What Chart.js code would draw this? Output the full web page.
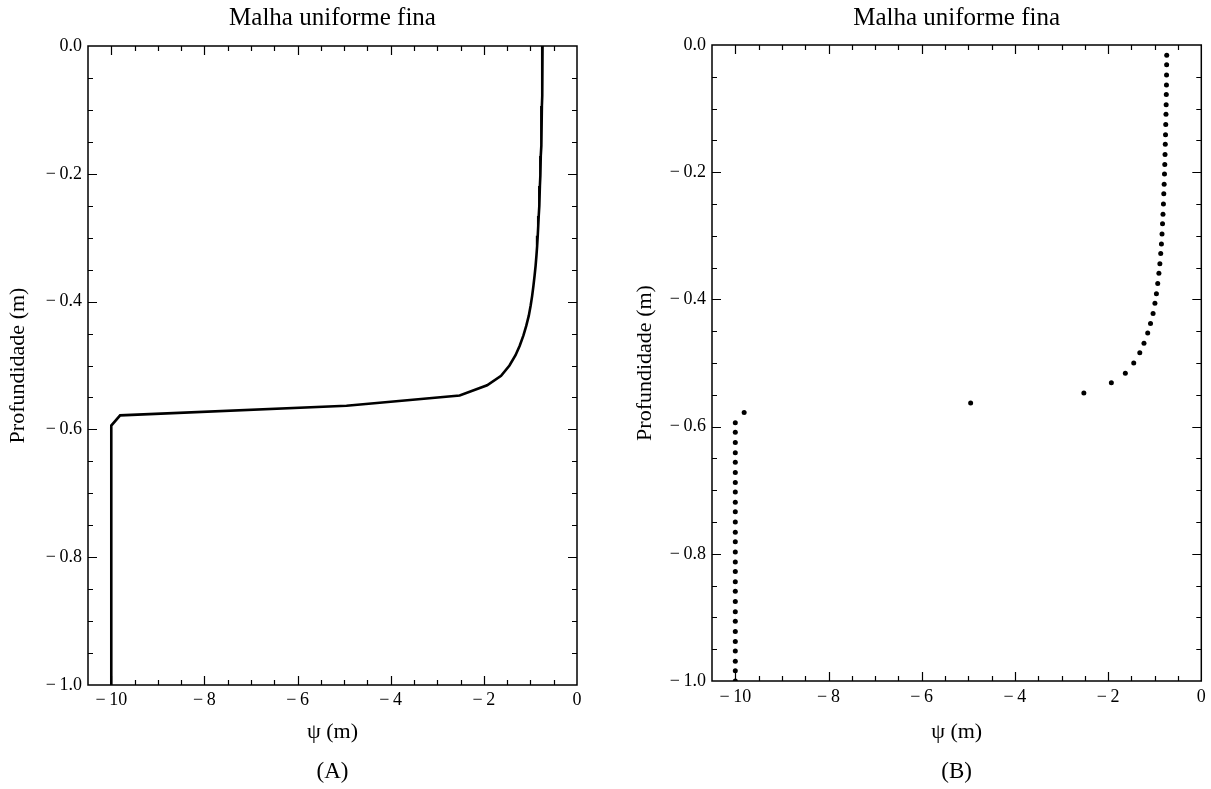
<!DOCTYPE html>
<html>
<head>
<meta charset="utf-8">
<script src="https://cdn.jsdelivr.net/npm/chart.js@4.4.0/dist/chart.umd.min.js"></script>
<style>
html,body{margin:0;padding:0;background:#fff;}
#wrap{position:relative;width:1211px;height:789px;overflow:hidden;}
canvas{position:absolute;top:0;}
</style>
</head>
<body>
<div id="wrap">
<canvas id="cA" width="606" height="789" style="left:0px"></canvas>
<canvas id="cB" width="605" height="789" style="left:606px"></canvas>
</div>
<script>
// ---------- text ----------
const chartTitle = 'Malha uniforme fina';
const xAxisTitle = 'ψ (m)';
const yAxisTitle = 'Profundidade (m)';
const captions = ['(A)', '(B)'];

// ---------- ticks ----------
const xTickValues = [-10, -8, -6, -4, -2, 0];
const xTickLabels = ['−\u200910', '−\u20098', '−\u20096', '−\u20094', '−\u20092', '0'];
const yTickValues = [0, -0.2, -0.4, -0.6, -0.8, -1.0];
const yTickLabels = ['0.0', '−\u20090.2', '−\u20090.4', '−\u20090.6', '−\u20090.8', '−\u20091.0'];
const xRange = [-10.5, 0];
const yRange = [-1.0, 0];
const xMinorStep = 0.5;
const yMinorStep = 0.05;

// ---------- data: mesh node depths (m) ----------
const depth = [
  0.000, -0.016, -0.031, -0.047, -0.063, -0.078, -0.094, -0.109, -0.125, -0.141,
  -0.156, -0.172, -0.188, -0.203, -0.219, -0.234, -0.250, -0.266, -0.281, -0.297,
  -0.313, -0.328, -0.344, -0.359, -0.375, -0.391, -0.406, -0.422, -0.438, -0.453,
  -0.469, -0.484, -0.500, -0.516, -0.531, -0.547, -0.563, -0.578, -0.594, -0.609,
  -0.625, -0.641, -0.656, -0.672, -0.688, -0.703, -0.719, -0.734, -0.750, -0.766,
  -0.781, -0.797, -0.813, -0.828, -0.844, -0.859, -0.875, -0.891, -0.906, -0.922,
  -0.938, -0.953, -0.969, -0.984, -1.000
];
// pressure head psi (m) at each node
const psi = [
  -0.740, -0.742, -0.744, -0.746, -0.748, -0.751, -0.754, -0.758, -0.763, -0.768,
  -0.773, -0.778, -0.784, -0.790, -0.797, -0.805, -0.813, -0.822, -0.832, -0.843,
  -0.856, -0.871, -0.889, -0.910, -0.935, -0.963, -0.995, -1.035, -1.090, -1.150,
  -1.230, -1.320, -1.450, -1.630, -1.930, -2.520, -4.950, -9.810, -10.00, -10.00,
  -10.00, -10.00, -10.00, -10.00, -10.00, -10.00, -10.00, -10.00, -10.00, -10.00,
  -10.00, -10.00, -10.00, -10.00, -10.00, -10.00, -10.00, -10.00, -10.00, -10.00,
  -10.00, -10.00, -10.00, -10.00, -10.00
];

// ---------- styling / layout ----------
Chart.defaults.font.family = "'Liberation Serif', 'Times New Roman', serif";
Chart.defaults.color = '#000';

const FONT = { title: 25, tick: 18, axis: 22, caption: 23 };
const CANVAS_H = 789;

const frameTicks = {
  id: 'frameTicks',
  beforeDatasetsDraw(chart) {
    const { ctx, chartArea: a, scales: { x, y } } = chart;
    const isMajor = (v, list) => list.some(t => Math.abs(t - v) < 1e-6);
    ctx.save();
    ctx.strokeStyle = '#000';
    ctx.lineWidth = 1.2;
    ctx.beginPath();
    const nx = Math.round((x.max - x.min) / xMinorStep);
    for (let i = 1; i < nx; i++) {
      const v = x.min + i * xMinorStep;
      const px = Math.round(x.getPixelForValue(v)) + 0.5;
      const L = isMajor(v, xTickValues) ? 9 : 5;
      ctx.moveTo(px, a.bottom); ctx.lineTo(px, a.bottom - L);
      ctx.moveTo(px, a.top); ctx.lineTo(px, a.top + L);
    }
    const ny = Math.round((y.max - y.min) / yMinorStep);
    for (let i = 1; i < ny; i++) {
      const v = y.min + i * yMinorStep;
      const py = Math.round(y.getPixelForValue(v)) + 0.5;
      const L = isMajor(v, yTickValues) ? 9 : 5;
      ctx.moveTo(a.left, py); ctx.lineTo(a.left + L, py);
      ctx.moveTo(a.right, py); ctx.lineTo(a.right - L, py);
    }
    ctx.stroke();
    ctx.lineWidth = 1.5;
    ctx.strokeRect(a.left, a.top, a.right - a.left, a.bottom - a.top);
    ctx.restore();
  }
};

function makePanel(canvasId, geo, caption, dataset) {
  const lhT = FONT.title * 1.2, lhA = FONT.axis * 1.2, lhC = FONT.caption * 1.2, lhK = FONT.tick * 1.2;
  const capPadBottom = CANVAS_H - geo.captionCY - lhC / 2;
  const capPadTop = 2;
  const capTop = CANVAS_H - capPadBottom - lhC - capPadTop;
  const xHeight = capTop - geo.bottom;
  const yWidth = geo.left - geo.canvasLeft;
  return new Chart(document.getElementById(canvasId), {
    type: 'scatter',
    data: { datasets: [dataset] },
    options: {
      responsive: false,
      animation: false,
      devicePixelRatio: 1,
      layout: { padding: { left: 0, top: 0, bottom: 0, right: geo.canvasRight - geo.right } },
      plugins: {
        legend: { display: false },
        tooltip: { enabled: false },
        title: {
          display: true, text: chartTitle, fullSize: false, color: '#000',
          font: { size: FONT.title, weight: 'normal' },
          padding: { top: geo.titleCY - lhT / 2, bottom: geo.top - geo.titleCY - lhT / 2 }
        },
        subtitle: {
          display: true, text: caption, position: 'bottom', fullSize: false, color: '#000',
          font: { size: FONT.caption, weight: 'normal' },
          padding: { top: capPadTop, bottom: capPadBottom }
        }
      },
      scales: {
        x: {
          type: 'linear', min: xRange[0], max: xRange[1],
          grid: { display: false, drawTicks: false },
          border: { display: false },
          afterBuildTicks: s => { s.ticks = xTickValues.map(v => ({ value: v })); },
          afterFit: s => { s.height = xHeight; },
          ticks: {
            autoSkip: false, maxRotation: 0, padding: geo.xLabelCY - geo.bottom - lhK / 2,
            font: { size: FONT.tick }, color: '#000',
            callback: (v, i) => xTickLabels[i]
          },
          title: {
            display: true, text: xAxisTitle, color: '#000',
            font: { size: FONT.axis },
            padding: { top: 0, bottom: capTop - geo.xTitleCY - lhA / 2 }
          }
        },
        y: {
          type: 'linear', min: yRange[0], max: yRange[1],
          grid: { display: false, drawTicks: false },
          border: { display: false },
          afterBuildTicks: s => { s.ticks = yTickValues.map(v => ({ value: v })); },
          afterFit: s => { s.width = yWidth; },
          ticks: {
            autoSkip: false, padding: 6,
            font: { size: FONT.tick }, color: '#000',
            callback: (v, i) => yTickLabels[i]
          },
          title: {
            display: true, text: yAxisTitle, color: '#000',
            font: { size: FONT.axis },
            padding: { top: geo.yTitleCX - geo.canvasLeft - lhA / 2, bottom: 0 }
          }
        }
      }
    },
    plugins: [frameTicks]
  });
}

const points = depth.map((d, i) => ({ x: psi[i], y: d }));

makePanel('cA',
  { canvasLeft: 0, canvasRight: 606, left: 88, right: 577, top: 46, bottom: 685,
    titleCY: 18, yTitleCX: 18, xLabelCY: 700, xTitleCY: 732, captionCY: 772 },
  captions[0],
  { data: points, showLine: true, borderColor: '#000', borderWidth: 2.6,
    pointRadius: 0, tension: 0 });

// the surface node (depth 0) is a boundary value and is not drawn as a dot in (B)
makePanel('cB',
  { canvasLeft: 606, canvasRight: 1211, left: 712, right: 1203, top: 45, bottom: 681,
    titleCY: 18, yTitleCX: 645, xLabelCY: 697, xTitleCY: 732, captionCY: 772 },
  captions[1],
  { data: points.slice(1), showLine: false, backgroundColor: '#000', borderWidth: 0,
    pointRadius: 2.5 });
</script>
</body>
</html>
